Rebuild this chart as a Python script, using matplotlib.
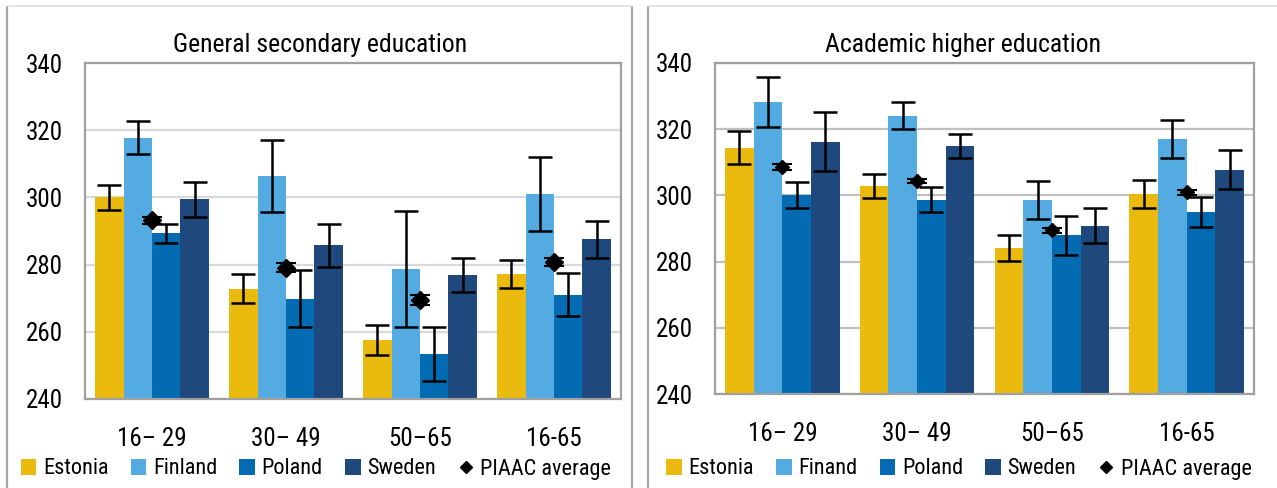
import matplotlib
matplotlib.use("Agg")
import matplotlib.pyplot as plt
from matplotlib import font_manager
from matplotlib.patches import Patch
from matplotlib.lines import Line2D
import numpy as np

# pick a narrow font if one is installed
names = {f.name for f in font_manager.fontManager.ttflist}
font = "Roboto"
for cand in ["Roboto Condensed", "Liberation Sans Narrow", "Open Sans Condensed"]:
    if cand in names:
        font = cand
        break
plt.rcParams["font.family"] = [font, "DejaVu Sans"]

groups = ["16\u2013 29", "30\u2013 49", "50\u201365", "16-65"]
countries_left = ["Estonia", "Finland", "Poland", "Sweden"]
countries_right = ["Estonia", "Finand", "Poland", "Sweden"]
colors = ["#EABA0E", "#53ABE1", "#036BB2", "#1F487C"]

# General secondary education
sec_vals = {
    "Estonia": [300.0, 272.8, 257.5, 277.2],
    "Finland": [317.8, 306.5, 278.7, 300.9],
    "Poland":  [289.3, 269.8, 253.4, 271.0],
    "Sweden":  [299.4, 285.8, 276.9, 287.6],
}
sec_err = {
    "Estonia": [3.7, 4.3, 4.5, 4.2],
    "Finland": [5.0, 10.7, 17.3, 11.0],
    "Poland":  [2.9, 8.5, 7.9, 6.4],
    "Sweden":  [5.2, 6.4, 5.0, 5.5],
}
sec_piaac = [293.2, 279.1, 269.5, 280.8]
sec_piaac_err = [1.0, 1.3, 1.4, 1.2]

# Academic higher education
acad_vals = {
    "Estonia": [314.4, 302.9, 284.2, 300.5],
    "Finand":  [328.3, 324.1, 298.7, 317.1],
    "Poland":  [300.0, 298.7, 287.9, 295.1],
    "Sweden":  [316.2, 315.0, 290.8, 307.8],
}
acad_err = {
    "Estonia": [5.0, 3.7, 3.9, 4.2],
    "Finand":  [7.6, 4.0, 5.8, 5.8],
    "Poland":  [3.9, 3.7, 5.9, 4.5],
    "Sweden":  [8.9, 3.7, 5.3, 6.0],
}
acad_piaac = [308.7, 304.3, 289.4, 300.9]
acad_piaac_err = [0.9, 0.7, 0.8, 0.8]

W, H = 1277, 488
fig = plt.figure(figsize=(W / 100, H / 100), dpi=100)


def px_axes(x0, y0, x1, y1):
    return fig.add_axes([x0 / W, 1 - y1 / H, (x1 - x0) / W, (y1 - y0) / H])


def draw_panel(ax, title, title_x, vals, errs, countries, piaac, piaac_err,
               grid_color, msize, legend_x):
    x = np.arange(len(groups))
    bw = 0.2125
    for i, c in enumerate(countries):
        pos = x + (i - 1.5) * bw
        ax.bar(pos, vals[c], width=bw, color=colors[i], zorder=2)
        ax.errorbar(pos, vals[c], yerr=errs[c], fmt="none", ecolor="black",
                    elinewidth=1.8, capsize=8.5, capthick=1.8, zorder=3)
    ax.errorbar(x, piaac, yerr=piaac_err, fmt="D", color="black",
                markersize=msize, elinewidth=1.5, capsize=7, capthick=1.5,
                zorder=4)
    ax.set_xlim(-0.5, 3.5)
    ax.set_ylim(240, 340)
    ax.set_yticks([240, 260, 280, 300, 320, 340])
    ax.set_xticks(x)
    ax.set_xticklabels(groups)
    ax.tick_params(axis="y", length=0, pad=16, labelsize=18)
    ax.tick_params(axis="x", length=0, pad=20, labelsize=18)
    ax.yaxis.grid(True, color=grid_color, linewidth=1.6, zorder=0)
    ax.set_axisbelow(True)
    for s in ax.spines.values():
        s.set_color("#A0A0A0")
        s.set_linewidth(1.6)
    fig.text(title_x / W, 1 - 45 / H, title, ha="center", va="center",
             fontsize=18.5)

    handles = [Patch(facecolor=colors[i], edgecolor="none", label=c)
               for i, c in enumerate(countries)]
    handles.append(Line2D([], [], marker="D", color="black", linestyle="none",
                          markersize=6, label="PIAAC average"))
    fig.legend(handles=handles, loc="center", ncol=5, frameon=False,
               bbox_to_anchor=(legend_x / W, 1 - 469 / H), fontsize=16,
               handlelength=0.7, handleheight=0.7, handletextpad=0.3,
               columnspacing=1.0, borderaxespad=0)


ax1 = px_axes(85, 63, 621, 399)
draw_panel(ax1, "General secondary education", 320, sec_vals, sec_err,
           countries_left, sec_piaac, sec_piaac_err, "#D9D9D9", 9.5, 316)

ax2 = px_axes(715, 63, 1254, 394)
draw_panel(ax2, "Academic higher education", 963, acad_vals, acad_err,
           countries_right, acad_piaac, acad_piaac_err, "#C0C0C0", 7, 959)

# panel borders
for xx in [7, 632, 648]:
    fig.add_artist(Line2D([xx / W, xx / W], [0, 1 - 7 / H],
                          color="#A6A6A6", linewidth=1.6))
fig.add_artist(Line2D([7 / W, 632 / W], [1 - 6 / H, 1 - 6 / H],
                      color="#E0E0E0", linewidth=1.2))
fig.add_artist(Line2D([648 / W, 1 / 1], [1 - 6 / H, 1 - 6 / H],
                      color="#E0E0E0", linewidth=1.2))

fig.savefig("out.png", dpi=100)
